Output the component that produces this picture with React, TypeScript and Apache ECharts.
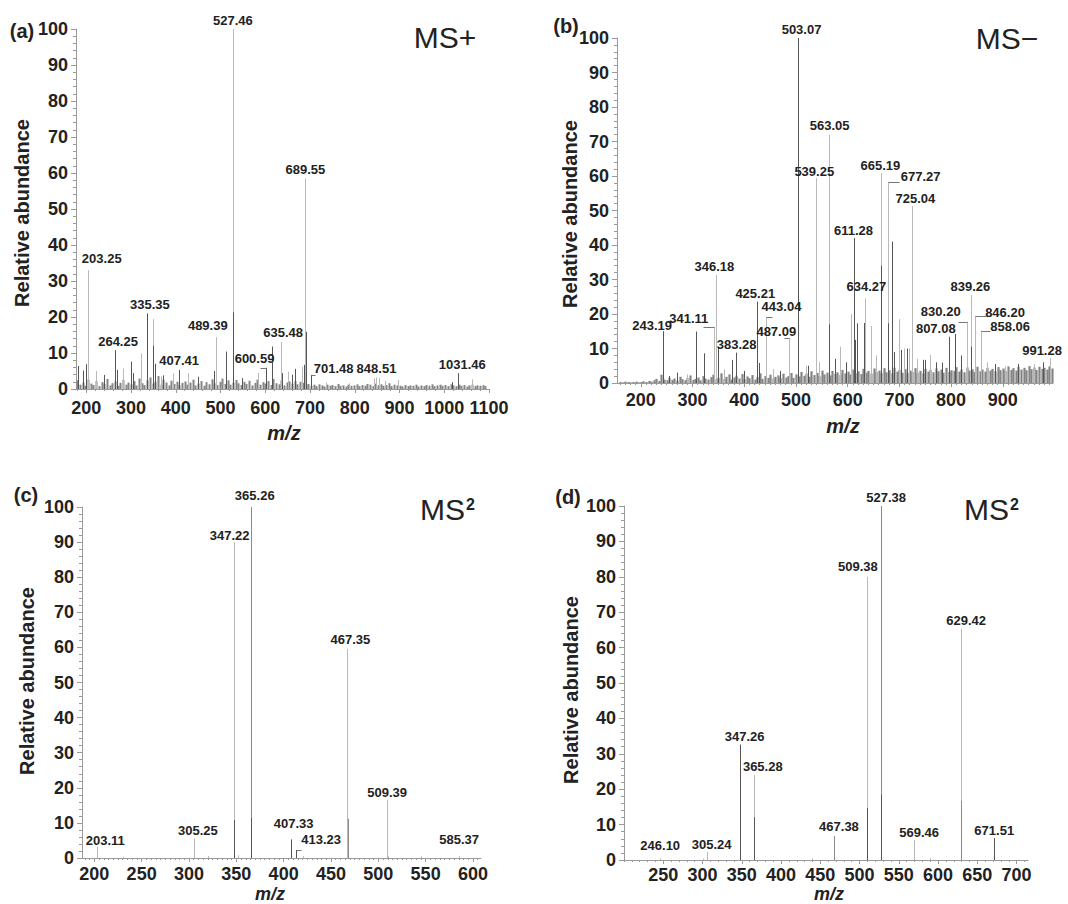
import React, { useEffect, useRef } from "react";
import * as echarts from "echarts";

const FONT = '"Liberation Sans", Arial, Helvetica, sans-serif';
const TONE: Record<string, string> = { l: "#b9b9b9", m: "#8a8a8a", d: "#555555" };
const NOISE_COLOR = "#858585";

// ---------- Panel (a) MS+ ----------
const aPeakMz = [203.25, 264.25, 335.35, 407.41, 489.39, 527.46, 600.59, 635.48, 689.55, 701.48, 848.51, 1031.46];
const aPeakAb = [33, 10.8, 21, 5.3, 14.4, 100, 5.9, 13.1, 58.5, 3.9, 3.2, 4.4];
const aPeakTone = ["l", "d", "d", "d", "l", "l", "d", "l", "l", "d", "l", "d"];
const aMinorMz = [181, 192, 199, 221, 240, 268, 283, 300, 305, 322, 348, 350, 353, 367, 372, 394, 428, 449, 485, 513, 528, 549, 584, 615, 638, 651, 659, 666, 681, 687, 690, 735, 788, 843, 855, 867, 896, 1018, 1061];
const aMinorAb = [6.4, 5.1, 6.9, 5.0, 3.9, 5.3, 5.7, 7.6, 4.4, 9.9, 19.4, 12.0, 7.0, 3.5, 3.8, 4.4, 4.4, 3.4, 5.0, 10.4, 21.3, 3.0, 4.5, 11.8, 4.4, 4.8, 4.0, 5.6, 6.2, 6.7, 15.9, 1.8, 1.6, 3.0, 3.0, 2.2, 2.5, 1.9, 2.7];
const aMinorTone = ["d", "d", "d", "l", "d", "d", "l", "d", "d", "l", "l", "d", "d", "l", "d", "l", "l", "d", "d", "d", "d", "d", "l", "d", "d", "l", "d", "d", "l", "d", "d", "l", "l", "l", "l", "l", "l", "d", "l"];
const aNoiseStart = 180;
const aNoiseStep = 6;
const aNoise = [
  2.4, 1.2, 1.8, 0.9, 2.6, 1.5, 1.1, 2.2, 0.8, 1.9, 1.4, 2.8, 1.0, 1.6, 2.1, 0.9, 1.7, 2.5, 1.2, 1.8,
  1.3, 2.2, 1.0, 2.9, 1.6, 1.1, 2.4, 3.2, 1.5, 2.0, 3.6, 1.2, 2.6, 1.8, 1.0, 2.3, 1.4, 2.0, 1.1, 1.7,
  2.1, 1.2, 1.8, 2.6, 1.0, 1.5, 2.2, 0.9, 1.9, 1.3, 2.7, 1.6, 1.1, 2.0, 2.9, 1.4, 2.4, 1.2, 1.8, 2.5,
  1.6, 1.1, 2.0, 1.4, 2.3, 1.0, 1.7, 2.6, 1.2, 1.9, 1.5, 2.2, 1.1, 2.8, 1.6, 1.3, 2.4, 1.0, 1.8, 2.1,
  1.5, 2.2, 1.3, 2.0, 1.7, 1.1, 1.4, 0.9, 1.2, 0.8, 1.3, 1.0, 0.7, 1.2, 0.9, 1.1, 0.8, 1.4, 0.9, 1.0,
  0.7, 1.2, 0.9, 1.0, 1.3, 0.8, 1.1, 0.9, 1.4, 1.2, 0.8, 1.5, 1.0, 1.3, 0.9, 1.1, 1.6, 0.8, 1.2, 1.0,
  0.9, 0.7, 1.1, 0.8, 1.0, 0.9, 1.2, 0.7, 1.0, 0.8, 1.1, 0.9, 1.3, 0.8, 1.0, 1.2, 0.9, 1.1, 0.8, 1.3,
  1.0, 0.8, 1.2, 0.9, 1.1, 0.7, 1.0, 1.2, 0.8, 1.0, 0.9, 1.1, 0.8,
];
const aTicks = [200, 300, 400, 500, 600, 700, 800, 900, 1000, 1100];
// label layout (px offsets)
const aLabelDx = [14, 3, 3, 0, -8, 0, -11, 2, 0, 23, 0, 4];
const aLabelDy = [-12, -9, -9, -9, -12, -9, -9, -9, -9, -6, -9, -9];
const aHookDx = [0, 0, 0, 0, 0, 0, -6, 0, 0, 4, 0, 0];

// ---------- Panel (b) MS- ----------
const bPeakMz = [243.19, 341.11, 346.18, 383.28, 425.21, 443.04, 487.09, 503.07, 539.25, 563.05, 611.28, 634.27, 665.19, 677.27, 725.04, 807.08, 830.2, 839.26, 846.2, 858.06, 991.28];
const bPeakAb = [15, 16.3, 31.3, 8.8, 23.6, 19.2, 13, 100, 59.4, 72, 42, 24.5, 60.8, 58.3, 51.3, 14.2, 17.8, 25.5, 19.5, 15.2, 7.2];
const bPeakTone = ["d", "l", "l", "d", "d", "l", "l", "d", "l", "l", "d", "l", "l", "l", "l", "d", "l", "l", "l", "l", "l"];
const bMinorMz = [255, 270, 290, 306.5, 323, 349, 360, 377, 400, 429, 455, 470, 520, 523, 545, 563, 575, 585, 597, 607, 614, 617.6, 631, 645, 655, 665, 677.5, 686, 690, 700, 704, 709.4, 714, 718, 735, 746, 749, 760, 770, 782, 796.4, 820, 838, 870, 885, 905, 930, 960, 978];
const bMinorAb = [2, 3, 2.5, 14.9, 8.6, 10, 4, 6.7, 3.5, 5.8, 4, 3.5, 5, 5, 6, 17, 7, 10.5, 6, 20, 12.5, 17.3, 17.4, 16.5, 8, 34, 17.3, 41, 9, 18.5, 9.6, 10, 10, 10, 7, 6.7, 6.7, 8.1, 6, 5.9, 13.4, 8, 10.5, 6, 5.5, 5, 5.5, 5.5, 6];
const bMinorTone = ["d", "d", "l", "d", "d", "d", "l", "d", "d", "d", "l", "d", "l", "d", "l", "d", "d", "l", "d", "l", "d", "d", "d", "l", "l", "d", "d", "d", "d", "l", "d", "l", "d", "l", "l", "d", "d", "l", "d", "d", "d", "d", "d", "l", "d", "l", "d", "l", "d"];
const bNoiseStart = 160;
const bNoiseStep = 5;
const bNoise = [
  0.3, 0.2, 0.4, 0.3, 0.2, 0.3, 0.4, 0.2, 0.3, 0.5, 0.3, 0.6, 0.4, 0.8, 1.2, 0.6, 2.4, 1.0, 0.8, 1.5,
  0.9, 1.3, 0.7, 1.8, 1.1, 0.8, 1.4, 2.2, 0.9, 1.2, 1.6, 0.8, 2.0, 1.3, 1.0, 1.7, 2.4, 1.1, 1.5, 2.8,
  1.2, 1.8, 2.5, 1.0, 1.6, 2.1, 1.3, 2.6, 1.1, 1.9, 1.4, 2.3, 1.0, 1.7, 2.8, 1.2, 2.0, 1.5, 2.4, 1.3,
  1.8, 2.2, 1.4, 2.7, 1.6, 2.0, 2.9, 1.5, 2.5, 1.9, 3.2, 2.1, 2.7, 1.8, 3.4, 2.3, 2.9, 2.0, 3.6, 2.5,
  3.0, 2.2, 3.5, 2.6, 3.1, 2.4, 3.8, 2.8, 3.3, 2.5, 3.9, 2.9, 3.4, 2.6, 4.1, 3.0, 3.5, 2.7, 4.2, 3.2,
  3.6, 2.9, 4.3, 3.1, 3.7, 2.8, 4.4, 3.3, 3.8, 3.0, 4.0, 2.9, 3.6, 3.2, 4.3, 3.0, 3.5, 2.8, 4.1, 3.3,
  3.8, 3.1, 4.2, 3.4, 3.9, 3.0, 4.4, 3.2, 3.7, 3.5, 4.6, 3.3, 3.9, 3.1, 4.5, 3.6, 4.0, 3.2, 4.7, 3.4,
  3.9, 3.3, 4.4, 3.6, 4.1, 3.4, 4.6, 3.7, 4.2, 3.5, 4.8, 3.8, 4.3, 3.6, 4.7, 3.9, 4.4, 3.7, 4.9, 4.0,
  4.5, 3.8, 4.7, 4.1, 4.4, 3.9, 4.8, 4.2,
];
const bTicks = [200, 300, 400, 500, 600, 700, 800, 900];
const bLabelDx = [-11, -25, -2, 1, -2, 15, -13, 4, -2, 1, 0, 1, -1, 33, 3, -19, -26, -1, 30, 29, -8];
const bLabelDy = [-6, -8, -9, -8, -8, -10, -7, -9, -7, -9, -8, -12, -8, -5, -8, -6, -10, -9, -3, -4, -8];
const bHookDx = [0, -11, 0, 0, 0, 6, -5, 0, 0, 0, 0, 0, 0, 11, 0, 0, -9, 0, 11, 9, 0];

// ---------- Panel (c) MS2 ----------
const cPeakMz = [203.11, 305.25, 347.22, 365.26, 407.33, 413.23, 467.35, 509.39, 585.37];
const cPeakAb = [3.2, 5.6, 90, 100, 5.3, 2.3, 59.6, 16.6, 0.6];
const cPeakTone = ["l", "l", "l", "m", "d", "d", "l", "l", "l"];
const cMinorMz = [230, 320, 347.6, 352, 365.6, 420, 467.7, 510, 545];
const cMinorAb = [0.4, 0.6, 10.8, 0.8, 11.4, 0.6, 11.2, 0.5, 0.5];
const cMinorTone = ["l", "l", "d", "l", "d", "l", "m", "l", "l"];
const cTicks = [200, 250, 300, 350, 400, 450, 500, 550, 600];
const cLabelDx = [8, 4, -4, 4, 3, 25, 3, 0, 0];
const cLabelDy = [-6, -8, -7, -12, -16, -10, -9, -7, -16];
const cHookDx = [0, 0, 0, 0, 0, 5, 0, 0, 0];

// ---------- Panel (d) MS2 ----------
const dPeakMz = [246.1, 305.24, 347.26, 365.28, 467.38, 509.38, 527.38, 569.46, 629.42, 671.51];
const dPeakAb = [0.5, 2.3, 32.6, 24, 6.8, 80, 100, 5.6, 65.3, 6.2];
const dPeakTone = ["l", "l", "d", "l", "m", "l", "m", "l", "l", "d"];
const dMinorMz = [300, 348, 365.6, 440, 509.8, 527.7, 590, 629.8];
const dMinorAb = [0.4, 4, 12.1, 0.5, 14.7, 18.5, 0.5, 16.7];
const dMinorTone = ["l", "l", "d", "l", "d", "d", "l", "m"];
const dTicks = [250, 300, 350, 400, 450, 500, 550, 600, 650, 700];
const dLabelDx = [0, 5, 5, 9, 5, -9, 5, 5, 5, 0];
const dLabelDy = [-13, -7, -8, -9, -9, -10, -9, -8, -8, -8];
const dHookDx = [0, 0, 0, 0, 0, 0, 0, 0, 0, 0];

function range(a: number, b: number, s: number) {
  const r: number[] = [];
  for (let v = a; v <= b + 1e-9; v += s) r.push(v);
  return r;
}

const panels = [
  {
    peakMz: aPeakMz, peakAb: aPeakAb, peakTone: aPeakTone,
    minorMz: aMinorMz, minorAb: aMinorAb, minorTone: aMinorTone,
    noiseStart: aNoiseStart, noiseStep: aNoiseStep, noise: aNoise, noiseWidth: 2,
    labelDx: aLabelDx, labelDy: aLabelDy, hookDx: aHookDx,
    ticks: aTicks, minorTicks: range(180, 1100, 20),
    grid: { left: 76, top: 29, width: 413, height: 360 }, xMin: 177, xMax: 1100, xMargin: 10,
  },
  {
    peakMz: bPeakMz, peakAb: bPeakAb, peakTone: bPeakTone,
    minorMz: bMinorMz, minorAb: bMinorAb, minorTone: bMinorTone,
    noiseStart: bNoiseStart, noiseStep: bNoiseStep, noise: bNoise, noiseWidth: 2.2,
    labelDx: bLabelDx, labelDy: bLabelDy, hookDx: bHookDx,
    ticks: bTicks, minorTicks: range(160, 990, 10),
    grid: { left: 617, top: 38, width: 436, height: 345 }, xMin: 154, xMax: 997, xMargin: 8,
  },
  {
    peakMz: cPeakMz, peakAb: cPeakAb, peakTone: cPeakTone,
    minorMz: cMinorMz, minorAb: cMinorAb, minorTone: cMinorTone,
    noiseStart: 0, noiseStep: 0, noise: [] as number[], noiseWidth: 1,
    labelDx: cLabelDx, labelDy: cLabelDy, hookDx: cHookDx,
    ticks: cTicks, minorTicks: range(190, 605, 5),
    grid: { left: 82, top: 507, width: 399, height: 351 }, xMin: 187, xMax: 608.5, xMargin: 7,
  },
  {
    peakMz: dPeakMz, peakAb: dPeakAb, peakTone: dPeakTone,
    minorMz: dMinorMz, minorAb: dMinorAb, minorTone: dMinorTone,
    noiseStart: 0, noiseStep: 0, noise: [] as number[], noiseWidth: 1,
    labelDx: dLabelDx, labelDy: dLabelDy, hookDx: dHookDx,
    ticks: dTicks, minorTicks: range(200, 710, 10),
    grid: { left: 624, top: 506, width: 404, height: 354 }, xMin: 200, xMax: 714.5, xMargin: 6,
  },
];

function stickSeries(gi: number, pts: number[][], color: string, width = 1) {
  return {
    type: "custom",
    xAxisIndex: gi,
    yAxisIndex: gi,
    clip: false,
    silent: true,
    data: pts,
    renderItem: (_p: any, api: any) => {
      const m = api.value(0);
      const v = api.value(1);
      const p0 = api.coord([m, 0]);
      const p1 = api.coord([m, v]);
      const x = Math.round(p0[0]) + 0.5;
      return {
        type: "line",
        shape: { x1: x, y1: p0[1], x2: x, y2: p1[1] },
        style: { stroke: color, lineWidth: width },
      };
    },
  };
}

function labelSeries(gi: number, pts: number[][]) {
  return {
    type: "custom",
    xAxisIndex: gi,
    yAxisIndex: gi,
    clip: false,
    silent: true,
    z: 5,
    data: pts,
    renderItem: (_p: any, api: any) => {
      const m = api.value(0);
      const v = api.value(1);
      const dx = api.value(2);
      const dy = api.value(3);
      const hx = api.value(4);
      const p = api.coord([m, v]);
      const x = Math.round(p[0]) + 0.5;
      const children: any[] = [];
      if (hx) {
        children.push({
          type: "line",
          shape: { x1: x, y1: Math.round(p[1]) + 0.5, x2: x + hx, y2: Math.round(p[1]) + 0.5 },
          style: { stroke: "#777", lineWidth: 1 },
        });
      }
      children.push({
        type: "text",
        x: p[0] + dx,
        y: p[1] + dy,
        style: {
          text: Number(m).toFixed(2),
          fill: "#222",
          fontSize: 13,
          fontWeight: "bold",
          fontFamily: FONT,
          align: "center",
          verticalAlign: "middle",
          textAlign: "center",
          textVerticalAlign: "middle",
        },
      });
      return { type: "group", children };
    },
  };
}

function txt(text: string, x: number, y: number, size: number, weight: string, extra: any = {}) {
  return {
    type: "text",
    x,
    y,
    silent: true,
    ...extra,
    style: {
      text,
      fill: "#222",
      fontSize: size,
      fontWeight: weight,
      fontFamily: FONT,
      fontStyle: extra.fontStyle || "normal",
      align: extra.align || "center",
      verticalAlign: "middle",
      textAlign: extra.align || "center",
      textVerticalAlign: "middle",
    },
  };
}

function buildOption() {
  const grid: any[] = [];
  const xAxis: any[] = [];
  const yAxis: any[] = [];
  const series: any[] = [];
  const axisColor = "#9a9a9a";

  panels.forEach((p, gi) => {
    grid.push({ ...p.grid, containLabel: false });
    xAxis.push({
      type: "value",
      gridIndex: gi,
      min: p.xMin,
      max: p.xMax,
      position: "bottom",
      axisLine: { show: true, onZero: false, lineStyle: { color: axisColor, width: 1 } },
      axisTick: { show: true, customValues: p.ticks, length: 4, lineStyle: { color: axisColor } },
      axisLabel: {
        customValues: p.ticks,
        margin: p.xMargin,
        fontSize: 18,
        fontWeight: "bold",
        fontFamily: FONT,
        color: "#222",
        hideOverlap: false,
        formatter: (v: number) => String(Math.round(v)),
      },
      splitLine: { show: false },
    });
    yAxis.push({
      type: "value",
      gridIndex: gi,
      min: 0,
      max: 100,
      interval: 10,
      axisLine: { show: true, onZero: false, lineStyle: { color: axisColor, width: 1 } },
      axisTick: { show: true, length: 5, lineStyle: { color: axisColor } },
      minorTick: { show: true, splitNumber: 5, length: 3, lineStyle: { color: axisColor } },
      axisLabel: { margin: 8, fontSize: 18, fontWeight: "bold", fontFamily: FONT, color: "#222" },
      splitLine: { show: false },
      minorSplitLine: { show: false },
    });
  });
  // minor x ticks (extra hidden-label axes)
  panels.forEach((p, gi) => {
    xAxis.push({
      type: "value",
      gridIndex: gi,
      min: p.xMin,
      max: p.xMax,
      position: "bottom",
      axisLine: { show: false },
      axisTick: { show: true, customValues: p.minorTicks, length: 2, lineStyle: { color: axisColor } },
      axisLabel: { show: false },
      splitLine: { show: false },
    });
  });

  panels.forEach((p, gi) => {
    const noisePts = p.noise.map((v, i) => [p.noiseStart + i * p.noiseStep, v]);
    if (noisePts.length) series.push(stickSeries(gi, noisePts, NOISE_COLOR, p.noiseWidth));
    (["l", "m", "d"] as const).forEach((tone) => {
      const pts: number[][] = [];
      p.minorMz.forEach((m, i) => {
        if (p.minorTone[i] === tone) pts.push([m, p.minorAb[i]]);
      });
      p.peakMz.forEach((m, i) => {
        if (p.peakTone[i] === tone) pts.push([m, p.peakAb[i]]);
      });
      if (pts.length) series.push(stickSeries(gi, pts, TONE[tone]));
    });
    const lab = p.peakMz.map((m, i) => [m, p.peakAb[i], p.labelDx[i], p.labelDy[i], p.hookDx[i]]);
    series.push(labelSeries(gi, lab));
  });

  const rot = Math.PI / 2;
  const graphic: any[] = [
    // (a)
    txt("(a)", 22, 31, 20, "bold"),
    txt("MS+", 445, 37, 30, "normal"),
    txt("Relative abundance", 22, 213, 20, "bold", { rotation: rot }),
    txt("m/z", 284, 433, 20, "bold", { fontStyle: "italic" }),
    // (b)
    txt("(b)", 566, 26, 20, "bold"),
    txt("MS\u2212", 1007, 38, 30, "normal"),
    txt("Relative abundance", 570, 214, 20, "bold", { rotation: rot }),
    txt("m/z", 843, 426, 20, "bold", { fontStyle: "italic" }),
    // (c)
    txt("(c)", 26, 495, 20, "bold"),
    txt("MS", 420, 509, 30, "normal", { align: "left" }),
    txt("2", 466, 504, 16, "bold", { align: "left" }),
    txt("Relative abundance", 27, 681, 20, "bold", { rotation: rot }),
    txt("m/z", 270, 894, 18, "bold", { fontStyle: "italic" }),
    // (d)
    txt("(d)", 568, 497, 20, "bold"),
    txt("MS", 964, 509, 30, "normal", { align: "left" }),
    txt("2", 1010, 504, 16, "bold", { align: "left" }),
    txt("Relative abundance", 571, 690, 20, "bold", { rotation: rot }),
    txt("m/z", 829, 894, 18, "bold", { fontStyle: "italic" }),
  ];

  return {
    animation: false,
    backgroundColor: "#ffffff",
    grid,
    xAxis,
    yAxis,
    series,
    graphic,
  };
}

export default function App() {
  const ref = useRef<HTMLDivElement>(null);
  useEffect(() => {
    document.body.style.margin = "0";
    document.body.style.overflow = "hidden";
    if (!ref.current) return;
    const chart = echarts.init(ref.current, undefined, { renderer: "svg" });
    chart.setOption(buildOption() as any);
    return () => chart.dispose();
  }, []);
  return <div ref={ref} style={{ width: 1068, height: 904 }} />;
}
